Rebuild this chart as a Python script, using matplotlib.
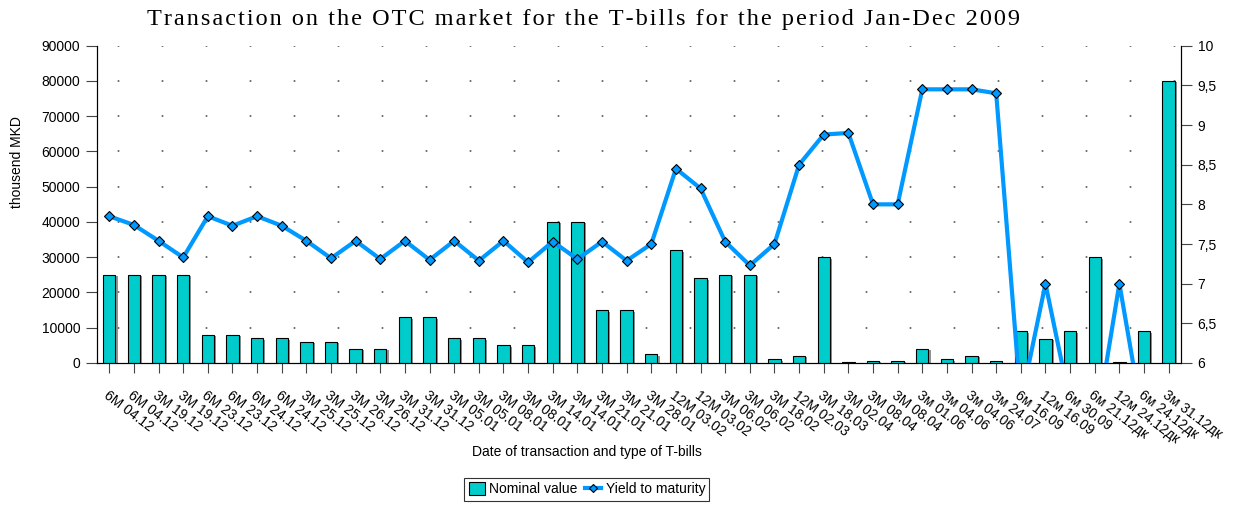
import numpy as np
import matplotlib
matplotlib.use('Agg')
from matplotlib import pyplot as plt
from matplotlib import patheffects as pe
from matplotlib.patches import Patch
from matplotlib.lines import Line2D
from matplotlib.ticker import FuncFormatter

#  data
labels = ['6M 04.12', '6M 04.12', '3M 19.12', '3M 19.12', '6M 23.12', '6M 23.12',
          '6M 24.12', '6M 24.12', '3M 25.12', '3M 25.12', '3M 26.12', '3M 26.12',
          '3M 31.12', '3M 31.12', '3M 05.01', '3M 05.01', '3M 08.01', '3M 08.01',
          '3M 14.01', '3M 14.01', '3M 21.01', '3M 21.01', '3M 28.01', '12M 03.02',
          '12M 03.02', '3M 06.02', '3M 06.02', '3M 18.02', '12M 02.03', '3M 18.03',
          '3M 02.04', '3M 08.04', '3M 08.04', '3м 01.06', '3м 04.06', '3м 04.06',
          '3м 24.07', '6м 16.09', '12м 16.09', '6м 30.09', '6м 21.12дк', '12м 24.12дк',
          '6м 24.12дк', '3м 31.12дк']
nominal = [25000, 25000, 25000, 25000, 8000, 8000, 7000, 7000, 6000, 6000, 4000, 4000,
           13000, 13000, 7000, 7000, 5000, 5000, 40000, 40000, 15000, 15000, 2500, 32000,
           24000, 25000, 25000, 1000, 2000, 30000, 150, 700, 700, 4000, 1000, 2000,
           500, 9000, 6800, 9000, 30000, 300, 9000, 80000]
yields = [7.85, 7.74, 7.54, 7.33, 7.85, 7.73, 7.85, 7.73, 7.54, 7.32, 7.54, 7.31,
          7.54, 7.30, 7.54, 7.29, 7.54, 7.27, 7.53, 7.31, 7.53, 7.29, 7.50, 8.45,
          8.20, 7.53, 7.23, 7.50, 8.50, 8.88, 8.90, 8.00, 8.00, 9.45, 9.45, 9.45,
          9.40, 5.5, 7.0, 5.5, 5.1, 7.0, 5.2, 5.2]
left_ticks = list(range(0, 90001, 10000))
right_ticks = [6, 6.5, 7, 7.5, 8, 8.5, 9, 9.5, 10]
title = 'Transaction on the OTC market for the T-bills for the period Jan-Dec 2009'

bar_col = '#00CCCC'
line_col = '#0099FF'
sans = ['Liberation Sans', 'DejaVu Sans']
serif = ['Liberation Serif', 'DejaVu Serif']
plt.rcParams['font.family'] = sans

fig = plt.figure(figsize=(12.37, 5.05), dpi=100)
ax = fig.add_axes([0.0784, 0.2812, 0.9547 - 0.0784, 0.9095 - 0.2812])
x = np.arange(len(labels))

#  bars with a little drop shadow
ax.bar(x, nominal, width=0.5, color=bar_col, edgecolor='black', linewidth=0.8, zorder=3,
       path_effects=[pe.SimplePatchShadow(offset=(1.5, -1), shadow_rgbFace='#777777', alpha=0.8),
                     pe.Normal()])
ax.set_xlim(-0.5, len(labels) - 0.5)
ax.set_ylim(0, 90000)
ax.set_yticks(left_ticks)
ax.set_xticks(x)
ax.set_xticklabels(labels, rotation=-37, ha='left', va='top', rotation_mode='anchor',
                   fontsize=10)
ax.tick_params(axis='x', length=7, color='#444444', pad=11)
ax.tick_params(axis='y', length=8, color='#444444', labelsize=10, pad=4)
for v in left_ticks[1:]:
    ax.axhline(v, color='#555555', linewidth=1.2, linestyle=(14, (1, 25.4)), zorder=1)
ax.spines['top'].set_visible(False)

#  yield on right axis
ax2 = ax.twinx()
ax2.plot(x, yields, color=line_col, linewidth=3, zorder=4, marker='D', markersize=5,
         markerfacecolor=line_col, markeredgecolor='black', markeredgewidth=0.8)
ax2.set_ylim(6, 10)
ax2.set_yticks(right_ticks)
ax2.yaxis.set_major_formatter(FuncFormatter(lambda v, p: ('%g' % v).replace('.', ',')))
ax2.tick_params(axis='y', length=8, color='#444444', labelsize=10, pad=4)
ax2.spines['top'].set_visible(False)

#  letter spaced title (hair spaces between chars)
fig.text(0.472, 0.962, '\u200a'.join(title), ha='center', va='center', fontsize=17.5,
         family=serif)
fig.text(0.014, 0.68, 'thousend MKD', rotation=90, ha='center', va='center', fontsize=10)
fig.text(0.4745, 0.105, 'Date of transaction and type of T-bills', ha='center', va='center',
         fontsize=10)

handles = [Patch(facecolor=bar_col, edgecolor='black', linewidth=0.8),
           Line2D([], [], color=line_col, linewidth=3, marker='D', markersize=4,
                  markerfacecolor=line_col, markeredgecolor='black', markeredgewidth=0.8)]
leg = fig.legend(handles, ['Nominal value', 'Yield to maturity'], loc='center',
                 bbox_to_anchor=(0.4745, 0.031), ncol=2, fontsize=10, frameon=True,
                 fancybox=False, handlelength=1.2, handleheight=1.0, handletextpad=0.3,
                 columnspacing=0.5, borderpad=0.3)
leg.get_frame().set_edgecolor('black')
leg.get_frame().set_linewidth(0.8)

fig.savefig('out.png', dpi=100)
